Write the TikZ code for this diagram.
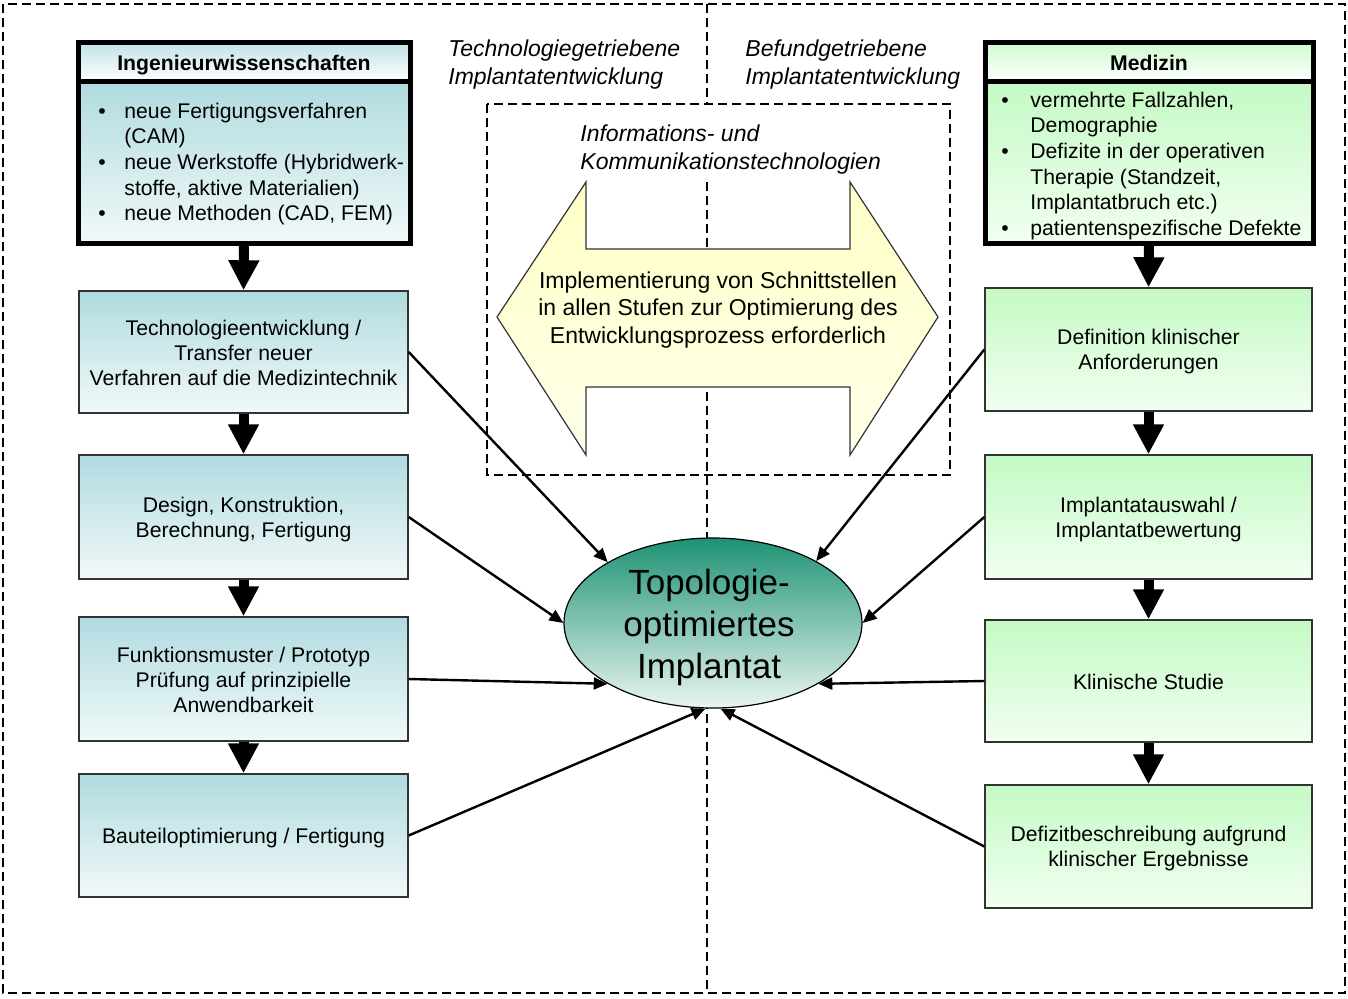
\documentclass[tikz,border=0pt]{standalone}
\usepackage{fontspec}
\setmainfont{Liberation Sans}
\usetikzlibrary{arrows.meta,shapes.geometric}

\definecolor{tealtop}{RGB}{176,219,223}
\definecolor{tealbot}{RGB}{241,249,249}
\definecolor{greentop}{RGB}{196,250,196}
\definecolor{greenbot}{RGB}{241,255,241}
\definecolor{ovaltop}{RGB}{30,146,116}
\definecolor{ovalbot}{RGB}{234,245,241}
\definecolor{yellowtop}{RGB}{255,255,198}
\definecolor{yellowbot}{RGB}{255,255,234}

% fixed ascent (first line) and descent (last line) for the stage texts
\newcommand{\stagetop}{\rule{0pt}{10pt}}
\newcommand{\stagebot}{\rule[-1.2pt]{0pt}{1.2pt}}

\begin{document}
\begin{tikzpicture}[x=0.5pt,y=-0.5pt,
  bodyfont/.style={font=\fontsize{10.6}{12.5}\selectfont},
  stagebox/.style={draw=black!80, line width=0.7pt, inner sep=0pt, align=center, bodyfont},
  leftstage/.style={stagebox, top color=tealtop, bottom color=tealbot, minimum width=164.5pt},
  rightstage/.style={stagebox, top color=greentop, bottom color=greenbot, minimum width=163.5pt},
  framebox/.style={draw=black, line width=2.5pt, inner sep=0pt},
  titlenode/.style={inner sep=0pt, text height=7.7pt, text depth=0pt, font=\bfseries\fontsize{10.6}{12.5}\selectfont},
  listnode/.style={inner sep=0pt, anchor=base west, font=\fontsize{10.6}{12.85}\selectfont},
  blockarrow/.style={line width=5pt, -{Triangle[length=15pt,width=14.5pt]}},
  feed/.style={line width=1.2pt, -{Triangle[length=7pt,width=6pt]}},
  guide/.style={line width=1.2pt, dash pattern=on 4.5pt off 2.5pt},
  caption/.style={font=\fontsize{11.5}{14}\selectfont\itshape, align=left, inner sep=0pt, anchor=west}]

\useasboundingbox (0,0) rectangle (1348,998);

% frame and column divider
\draw[guide] (3,4) rectangle (1345,993);
\draw[guide, line width=1.1pt] (707,4) -- (707,104);
\draw[guide, line width=1.1pt] (707,182) -- (707,993);

% column captions
\node[caption] (capL) at (448,65) {Technologiegetriebene\\Implantatentwicklung};
\node[caption] (capR) at (745,65) {Befundgetriebene\\Implantatentwicklung};

% information technology panel with double arrow
\draw[guide, line width=1.1pt] (487,104) rectangle (950,475);
\node[caption] (capIK) at (580,149.5) {Informations- und\\Kommunikationstechnologien};
\draw[draw=black!80, line width=0.6pt, top color=yellowtop, bottom color=yellowbot]
  (497,317) -- (586,182) -- (586,249) -- (850,249) -- (850,182) -- (938,317)
  -- (850,455) -- (850,387) -- (586,387) -- (586,455) -- cycle;
\node[align=center, inner sep=0pt, font=\fontsize{11.5}{13.75}\selectfont] (IK) at (718,310)
  {Implementierung von Schnittstellen\\in allen Stufen zur Optimierung des\\Entwicklungsprozess erforderlich};

% central result
\node[ellipse, draw=black, line width=0.6pt, top color=ovaltop, bottom color=ovalbot,
  minimum width=149pt, minimum height=85pt, inner sep=0pt] (E) at (713,623) {};
\node[align=center, inner sep=0pt, font=\fontsize{17.5}{21}\selectfont] (Etext) at (709,627.5)
  {Topologie-\\optimiertes\\Implantat};

% engineering column
\node[framebox, top color=tealtop, bottom color=tealbot, minimum width=166pt, minimum height=81pt] (INGb) at (244,162) {};
\node[framebox, top color=tealtop!80, bottom color=white, minimum width=166pt, minimum height=19.5pt] (INGh) at (244,61.5) {};
\node[titlenode] (INGt) at (244,63) {Ingenieurwissenschaften};
\node[listnode] (INGlist) at (98,118) {\begin{tabular}[t]{@{}p{13pt}@{}l@{}}
\textbullet & neue Fertigungsverfahren\\
 & (CAM)\\
\textbullet & neue Werkstoffe (Hybridwerk-\\
 & stoffe, aktive Materialien)\\
\textbullet & neue Methoden (CAD, FEM)
\end{tabular}};

\node[leftstage, minimum height=61pt] (L1) at (243.5,352) {\stagetop Technologieentwicklung /\\Transfer neuer\\Verfahren auf die Medizintechnik\stagebot};
\node[leftstage, minimum height=62pt] (L2) at (243.5,517) {\stagetop Design, Konstruktion,\\Berechnung, Fertigung\stagebot};
\node[leftstage, minimum height=62pt] (L3) at (243.5,679) {\stagetop Funktionsmuster / Prototyp\\Prüfung auf prinzipielle\\Anwendbarkeit\stagebot};
\node[leftstage, minimum height=61.5pt] (L4) at (243.5,835.5) {\stagetop Bauteiloptimierung / Fertigung\stagebot};

% medicine column
\node[framebox, top color=greentop, bottom color=greenbot, minimum width=164pt, minimum height=81pt] (MEDb) at (1149,162) {};
\node[framebox, top color=greentop!85, bottom color=white, minimum width=164pt, minimum height=19.5pt] (MEDh) at (1149,61.5) {};
\node[titlenode] (MEDt) at (1149,63) {Medizin};
\node[listnode] (MEDlist) at (1001,107) {\begin{tabular}[t]{@{}p{14.5pt}@{}l@{}}
\textbullet & vermehrte Fallzahlen,\\
 & Demographie\\
\textbullet & Defizite in der operativen\\
 & Therapie (Standzeit,\\
 & Implantatbruch etc.)\\
\textbullet & patientenspezifische Defekte
\end{tabular}};

\node[rightstage, minimum height=61.5pt] (R1) at (1148.5,349.5) {\stagetop Definition klinischer\\Anforderungen\stagebot};
\node[rightstage, minimum height=62pt] (R2) at (1148.5,517) {\stagetop Implantatauswahl /\\Implantatbewertung\stagebot};
\node[rightstage, minimum height=61pt] (R3) at (1148.5,681) {\stagetop Klinische Studie\stagebot};
\node[rightstage, minimum height=61.5pt] (R4) at (1148.5,846.5) {\stagetop Defizitbeschreibung aufgrund\\klinischer Ergebnisse\stagebot};

% process arrows
\draw[blockarrow] (INGb.south) -- (L1.north);
\draw[blockarrow] (L1.south) -- (L2.north);
\draw[blockarrow] (L2.south) -- (L3.north);
\draw[blockarrow] (L3.south) -- (L4.north);
\draw[blockarrow] (MEDb.south) -- (R1.north);
\draw[blockarrow] (R1.south) -- (R2.north);
\draw[blockarrow] (R2.south) -- (R3.north);
\draw[blockarrow] (R3.south) -- (R4.north);

% contributions to the implant
\draw[feed] (L1.east) -- (E.150);
\draw[feed] (L2.east) -- (E.180);
\draw[feed] (L3.east) -- (E.210);
\draw[feed] (L4.east) -- (E.265);
\draw[feed] (R1.west) -- (E.31);
\draw[feed] (R2.west) -- (E.0);
\draw[feed] (R3.west) -- (E.330);
\draw[feed] (R4.west) -- (E.275);
\end{tikzpicture}
\end{document}
